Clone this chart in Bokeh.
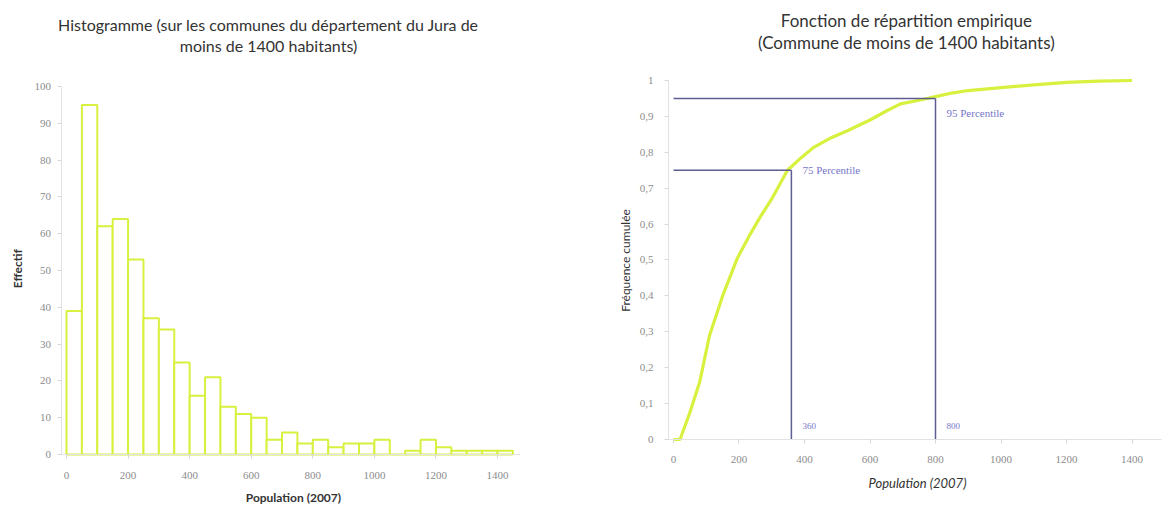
import math
from bokeh.plotting import figure
from bokeh.models import Range1d, Label, FixedTicker, CustomJSTickFormatter, ColumnDataSource, LinearAxis
from bokeh.layouts import row
from bokeh.embed import file_html
from bokeh.resources import INLINE

# ---------------- data ----------------
bin_left = [0, 50, 100, 150, 200, 250, 300, 350, 400, 450, 500, 550, 600, 650, 700,
            750, 800, 850, 900, 950, 1000, 1050, 1100, 1150, 1200, 1250, 1300, 1350, 1400]
bin_right = [50, 100, 150, 200, 250, 300, 350, 400, 450, 500, 550, 600, 650, 700, 750,
             800, 850, 900, 950, 1000, 1050, 1100, 1150, 1200, 1250, 1300, 1350, 1400, 1450]
counts = [39, 95, 62, 64, 53, 37, 34, 25, 16, 21, 13, 11, 10, 4, 6,
          3, 4, 2, 3, 3, 4, 0, 1, 4, 2, 1, 1, 1, 1]

cdf_pop = [0, 20, 50, 80, 110, 150, 195, 230, 265, 300, 348, 390, 427, 480, 531,
           600, 650, 693, 750, 800, 850, 900, 1000, 1100, 1200, 1300, 1400]
cdf_val = [0, 0, 0.075, 0.16, 0.29, 0.40, 0.505, 0.565, 0.62, 0.67, 0.75, 0.785, 0.813, 0.84, 0.86,
           0.89, 0.915, 0.935, 0.945, 0.955, 0.965, 0.972, 0.98, 0.988, 0.995, 0.998, 1.0]

pct_values = [360, 800]
pct_levels = [0.75, 0.95]
pct_names = ["75 Percentile", "95 Percentile"]
pct_value_labels = ["360", "800"]

hist_ticks_x = [0, 200, 400, 600, 800, 1000, 1200, 1400]
hist_ticks_y = [0, 10, 20, 30, 40, 50, 60, 70, 80, 90, 100]
cdf_ticks_x = [0, 200, 400, 600, 800, 1000, 1200, 1400]
cdf_ticks_y = [0, 0.1, 0.2, 0.3, 0.4, 0.5, 0.6, 0.7, 0.8, 0.9, 1.0]

hist_title = ["Histogramme (sur les communes du département du Jura de", "moins de 1400 habitants)"]
cdf_title = ["Fonction de répartition empirique", "(Commune de moins de 1400 habitants)"]

# ---------------- styles ----------------
GREEN = "#d8f03e"
TICK_FONT = "Liberation Serif"
TITLE_FONT = "Lato"
TICK_COLOR = "#8c8c8c"
TEXT_COLOR = "#333333"
PCT_LINE = "#5d5d92"
PCT_TEXT = "#7676c8"


def make_axis(p, side, loc, bounds, ticks, standoff, formatter=None):
    ax = LinearAxis(fixed_location=loc, bounds=bounds, ticker=FixedTicker(ticks=ticks))
    if formatter is not None:
        ax.formatter = formatter
    ax.axis_line_color = "#e2e2e2"
    ax.major_tick_line_color = "#d6d6d6"
    ax.minor_tick_line_color = None
    ax.major_tick_out = 4
    ax.major_tick_in = 0
    ax.major_label_standoff = standoff
    ax.major_label_text_font = TICK_FONT
    ax.major_label_text_font_size = "11px"
    ax.major_label_text_color = TICK_COLOR
    p.add_layout(ax, side)
    return ax


def text_label(p, x, y, text, size, style="normal", angle=0.0, color=TEXT_COLOR):
    p.add_layout(Label(x=x, y=y, text=text, text_font=TITLE_FONT, text_font_size=size,
                       text_font_style=style, text_color=color, text_align="center",
                       text_baseline="middle", angle=angle))


def base_figure(width, xr, yr):
    p = figure(width=width, height=508, x_range=Range1d(*xr), y_range=Range1d(*yr),
               output_backend="svg", toolbar_location=None, title=None,
               x_axis_location=None, y_axis_location=None,
               min_border=0, min_border_left=0, min_border_right=0,
               min_border_top=0, min_border_bottom=0)
    p.grid.visible = False
    p.outline_line_color = None
    return p


# ---------------- histogram ----------------
p1 = base_figure(562, (-214.4, 1611.0), (-14.67, 123.37))

hist_src = ColumnDataSource(dict(left=bin_left, right=bin_right, top=counts))
p1.quad(left="left", right="right", bottom=0, top="top", source=hist_src,
        fill_color="white", line_color=GREEN, line_width=2)
make_axis(p1, "below", 0, (-15, 1475), hist_ticks_x, 13)
make_axis(p1, "left", -15, (0, 100), hist_ticks_y, 7)

text_label(p1, 656, 116.85, hist_title[0], "16px")
text_label(p1, 656, 111.1, hist_title[1], "16px")
text_label(p1, 737, -11.7, "Population (2007)", "12px", style="bold")
text_label(p1, -159, 50.5, "Effectif", "12px", style="bold", angle=math.pi / 2)

# ---------------- empirical CDF ----------------
p2 = base_figure(600, (-338.9, 1493.1), (-0.1922, 1.2228))

p2.line(cdf_pop, cdf_val, line_color=GREEN, line_width=3.2)

zeros = [0 for _ in pct_values]
p2.segment(x0=zeros, y0=pct_levels, x1=pct_values, y1=pct_levels, line_color=PCT_LINE, line_width=1.5)
p2.segment(x0=pct_values, y0=zeros, x1=pct_values, y1=pct_levels, line_color=PCT_LINE, line_width=1.5)

name_src = ColumnDataSource(dict(x=pct_values, y=pct_levels, t=pct_names, dy=[0, 15]))
p2.text(x="x", y="y", text="t", source=name_src, x_offset=11, y_offset="dy",
        text_font=TICK_FONT, text_font_size="11px", text_color=PCT_TEXT,
        text_baseline="middle", text_align="left")
val_src = ColumnDataSource(dict(x=pct_values, y=zeros, t=pct_value_labels))
p2.text(x="x", y="y", text="t", source=val_src, x_offset=11, y_offset=-13,
        text_font=TICK_FONT, text_font_size="9px", text_color=PCT_TEXT,
        text_baseline="middle", text_align="left")

comma = CustomJSTickFormatter(
    code="var s = (Math.round(tick*10)/10).toString(); return s.replace('.', ',');")
make_axis(p2, "below", 0, (-15, 1490), cdf_ticks_x, 13)
make_axis(p2, "left", -15, (0, 1), cdf_ticks_y, 11, formatter=comma)

text_label(p2, 711, 1.167, cdf_title[0], "17px")
text_label(p2, 711, 1.106, cdf_title[1], "17px")
text_label(p2, 745, -0.12, "Population (2007)", "13px", style="italic")
text_label(p2, -146.6, 0.4986, "Fréquence cumulée", "12px", angle=math.pi / 2)

layout = row(p1, p2)
open("out.html", "w").write(file_html(layout, INLINE))
